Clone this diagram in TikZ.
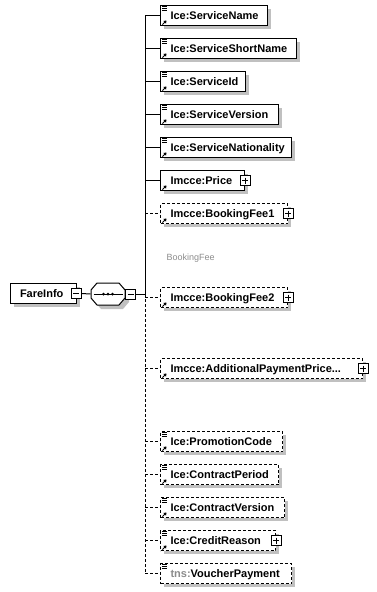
\documentclass[tikz,border=0pt]{standalone}
\usepackage{fontspec}
\setmainfont{Liberation Sans}
\usetikzlibrary{arrows.meta}
\definecolor{schattengrau}{RGB}{192,192,192}
\definecolor{labelgrau}{RGB}{140,140,140}

\begin{document}
\begin{tikzpicture}[x=1pt, y=-1pt, line width=1pt,
				schatten/.style={fill=schattengrau, draw=none, shift={(4,4)}},
				elem/.style={draw, fill=white, anchor=north west, minimum height=20pt,
					inner xsep=10pt, inner ysep=0pt, text width=#1, align=left, text height=8pt, text depth=0pt,
					font=\fontsize{11}{13}\selectfont\bfseries, execute at begin node={\hyphenpenalty=10000}},
				optelem/.style={elem=#1, dash pattern=on 3pt off 2pt},
				optlinie/.style={dash pattern=on 3pt off 2pt},
				plusbox/.style={draw, fill=white, minimum size=10pt, inner sep=0pt,
					path picture={\draw ([yshift=-2pt]path picture bounding box.north) -- ([yshift=2pt]path picture bounding box.south)
						([xshift=2pt]path picture bounding box.west) -- ([xshift=-2pt]path picture bounding box.east);}},
				minusbox/.style={draw, fill=white, minimum size=10pt, inner sep=0pt,
					path picture={\draw ([xshift=2pt]path picture bounding box.west) -- ([xshift=-2pt]path picture bounding box.east);}},
				seqbox/.style={minimum width=34pt, minimum height=22pt, inner sep=0pt}]
				%Bildbereich
				\useasboundingbox (0,0) rectangle (376,592);
				% Wurzelelement
				\fill[schatten] (10,283) rectangle ++(66,20);
				\node[elem=47pt, inner xsep=9.5pt] (fare) at (10,283) {FareInfo};
				\node[minusbox] (fare-minus) at ([xshift=-1pt]fare.east) {};
				% Sequenz (Achteck)
				\fill[schatten] (97,283) -- ++(22,0) -- ++(6,7) -- ++(0,8) -- ++(-6,7) -- ++(-22,0) -- ++(-6,-7) -- ++(0,-8) -- cycle;
				\filldraw[fill=white] (97,283) -- ++(22,0) -- ++(6,7) -- ++(0,8) -- ++(-6,7) -- ++(-22,0) -- ++(-6,-7) -- ++(0,-8) -- cycle;
				\node[seqbox] (seq) at (108,294) {};
				\draw ([xshift=3pt]seq.west) -- ([xshift=-3pt]seq.east);
				\foreach \d in {-4.5,0,4.5} \fill ([xshift=\d pt]seq.center) circle (1.5pt);
				\node[minusbox, anchor=west] (seq-minus) at ([xshift=-0.5pt]seq.east) {};
				\coordinate (trunk) at (145,294);
				\draw (fare-minus.east) -- (seq.west);
				\draw (seq-minus.east) -- (trunk);
				% Pflichtelemente
				\foreach \name/\y/\tw/\txt in {sname/5/87/Ice:ServiceName, sshort/38/116/Ice:ServiceShortName,
					sid/71/65/Ice:ServiceId, sversion/104/98/Ice:ServiceVersion,
					snation/137/111/Ice:ServiceNationality, price/170/64/Imcce:Price}
				{
					\fill[schatten] (160,\y) rectangle ++(\tw+20,20);
					\node[elem=\tw pt] (\name) at (160,\y) {\txt};
				}
				% optionale Elemente
				\foreach \name/\y/\tw/\txt in {bfee1/203/107/Imcce:BookingFee1, bfee2/287/107/Imcce:BookingFee2,
					addpay/358/182/{Imcce:AdditionalPaymentPrice...}, promo/431/102/Ice:PromotionCode,
					cperiod/464/98/Ice:ContractPeriod, cversion/497/104/Ice:ContractVersion,
					credit/530/95/Ice:CreditReason, voucher/563/111/{\textcolor{labelgrau}{tns:}VoucherPayment}}
				{
					\fill[schatten] (160,\y) rectangle ++(\tw+20,20);
					\node[optelem=\tw pt] (\name) at (160,\y) {\txt};
				}
				% Gruppenbeschriftung
				\node[font=\fontsize{9}{11}\selectfont, text=labelgrau, anchor=west, inner sep=0pt] (bfee-label) at (166,258) {BookingFee};
				% Symbole
				\foreach \name in {sname,sshort,sid,sversion,snation,promo,cperiod,cversion,credit,voucher}
					\foreach \dy in {1.5,3.5,5.5}
						\draw[line width=0.8pt] ([shift={(2,\dy)}]\name.north west) -- ++(5,0);
				\foreach \name in {sname,sshort,sid,sversion,snation,price,bfee1,bfee2,addpay,promo,cperiod,cversion,credit}
					\draw[-{Triangle[length=2.5pt,width=3.5pt]}] ([shift={(2.5,-1.5)}]\name.south west) -- ++(4,-4);
				\foreach \name in {price,bfee1,bfee2,addpay,credit}
					\node[plusbox] (\name-plus) at (\name.east) {};
				% Verbindungen
				\draw (sname.west -| trunk) -- (trunk);
				\draw[optlinie] (trunk) -- (voucher.west -| trunk);
				\foreach \name in {sname,sshort,sid,sversion,snation,price}
					\draw (\name.west -| trunk) -- (\name.west);
				\foreach \name in {bfee1,bfee2,addpay,promo,cperiod,cversion,credit,voucher}
					\draw[optlinie] (\name.west -| trunk) -- (\name.west);
			\end{tikzpicture}
\end{document}
